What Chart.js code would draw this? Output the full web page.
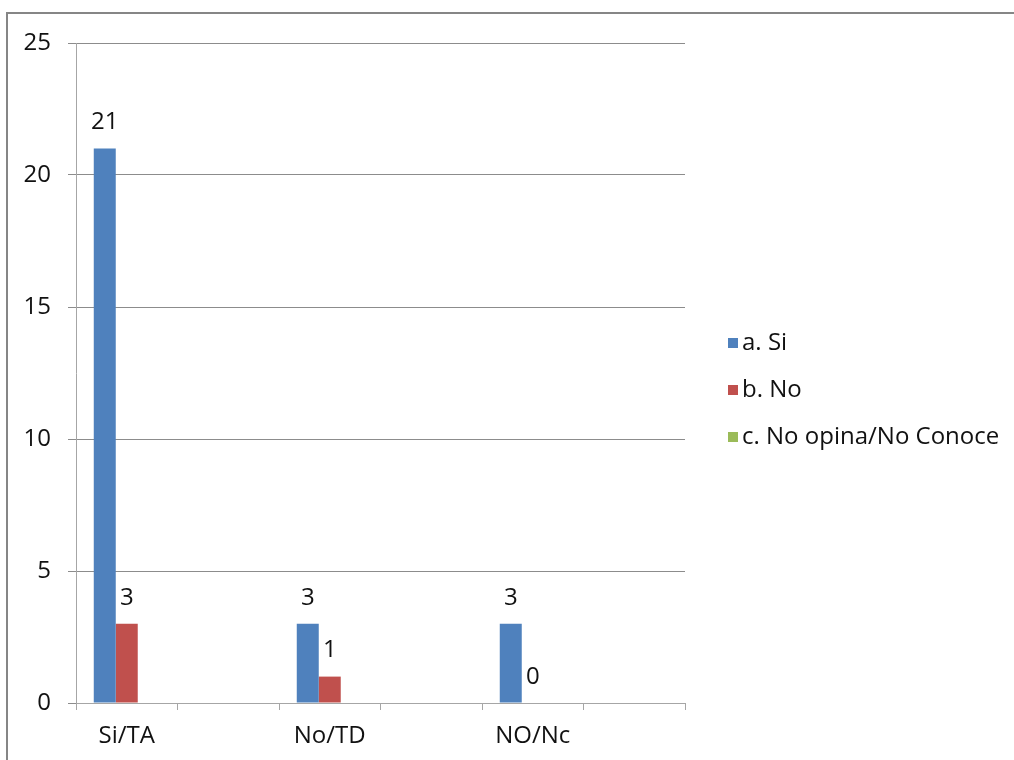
<!DOCTYPE html>
<html>
<head>
<meta charset="utf-8">
<script src="https://cdn.jsdelivr.net/npm/chart.js@4.4.1/dist/chart.umd.min.js"></script>
<style>
  html, body { margin: 0; padding: 0; background: #fff; }
  #wrap { width: 1014px; height: 760px; position: relative; }
</style>
</head>
<body>
<div id="wrap"><canvas id="c" width="1014" height="760"></canvas></div>
<script>
// Category slots (labels shown on every other slot)
const categories = ['Si/TA', '', 'No/TD', '', 'NO/Nc', ''];
const seriesNames = ['a. Si', 'b. No', 'c. No opina/No Conoce'];
const valuesSi = [21, null, 3, null, 3, null];
const valuesNo = [3, null, 1, null, 0, null];
const valuesNoOpina = [null, null, null, null, null, null];
const yTicks = [0, 5, 10, 15, 20, 25];
const seriesColors = ['#4F81BD', '#C0504D', '#9BBB59'];

const FONT = '"Open Sans", Lato, sans-serif';
const FONT_SIZE = 24;

// Outer frame, data labels and right-hand legend
const decorPlugin = {
  id: 'decor',
  beforeDraw(chart) {
    const ctx = chart.ctx;
    ctx.save();
    ctx.fillStyle = '#fff';
    ctx.fillRect(0, 0, chart.width, chart.height);
    ctx.strokeStyle = '#868686';
    ctx.lineWidth = 2;
    ctx.strokeRect(7, 13, chart.width + 20, chart.height + 20);
    ctx.restore();
  },
  afterDatasetsDraw(chart) {
    const ctx = chart.ctx;
    ctx.save();
    ctx.font = FONT_SIZE + 'px ' + FONT;
    ctx.fillStyle = '#111';
    ctx.textAlign = 'center';
    ctx.textBaseline = 'middle';
    chart.data.datasets.forEach((ds, di) => {
      const meta = chart.getDatasetMeta(di);
      ds.data.forEach((v, i) => {
        if (v === null || v === undefined) return;
        const bar = meta.data[i];
        ctx.fillText(String(v), bar.x, bar.y - 26);
      });
    });
    ctx.restore();
  },
  afterDraw(chart) {
    const ctx = chart.ctx;
    ctx.save();
    ctx.font = FONT_SIZE + 'px ' + FONT;
    ctx.textAlign = 'left';
    ctx.textBaseline = 'middle';
    const x0 = 728, y0 = 343, step = 47;
    chart.data.datasets.forEach((ds, i) => {
      const y = y0 + i * step;
      ctx.fillStyle = ds.backgroundColor;
      ctx.fillRect(x0, y - 5, 10, 10);
      ctx.fillStyle = '#111';
      ctx.fillText(ds.label, x0 + 14, y);
    });
    ctx.restore();
  }
};

new Chart(document.getElementById('c'), {
  type: 'bar',
  data: {
    labels: categories,
    datasets: [
      { label: seriesNames[0], data: valuesSi, backgroundColor: seriesColors[0] },
      { label: seriesNames[1], data: valuesNo, backgroundColor: seriesColors[1] },
      { label: seriesNames[2], data: valuesNoOpina, backgroundColor: seriesColors[2] }
    ]
  },
  options: {
    responsive: false,
    animation: false,
    devicePixelRatio: 1,
    layout: { padding: { left: 0, top: 43, right: 329, bottom: 0 } },
    datasets: { bar: { categoryPercentage: 0.65, barPercentage: 1.0 } },
    plugins: {
      legend: { display: false },
      tooltip: { enabled: false }
    },
    scales: {
      x: {
        grid: {
          offset: true,
          drawOnChartArea: false,
          drawTicks: true,
          tickLength: 7,
          color: '#a6a6a6'
        },
        border: { color: '#a6a6a6', width: 1 },
        ticks: {
          autoSkip: false,
          maxRotation: 0,
          padding: 12,
          color: '#111',
          font: { family: FONT, size: FONT_SIZE }
        },
        afterFit(scale) { scale.height = 57; }
      },
      y: {
        min: 0,
        max: 25,
        afterBuildTicks(scale) { scale.ticks = yTicks.map(v => ({ value: v })); },
        grid: {
          color: '#8c8c8c',
          drawTicks: true,
          tickLength: 8
        },
        border: { color: '#a6a6a6', width: 1 },
        ticks: {
          padding: 17,
          color: '#111',
          font: { family: FONT, size: FONT_SIZE }
        },
        afterFit(scale) { scale.width = 76; }
      }
    }
  },
  plugins: [decorPlugin]
});
</script>
</body>
</html>
